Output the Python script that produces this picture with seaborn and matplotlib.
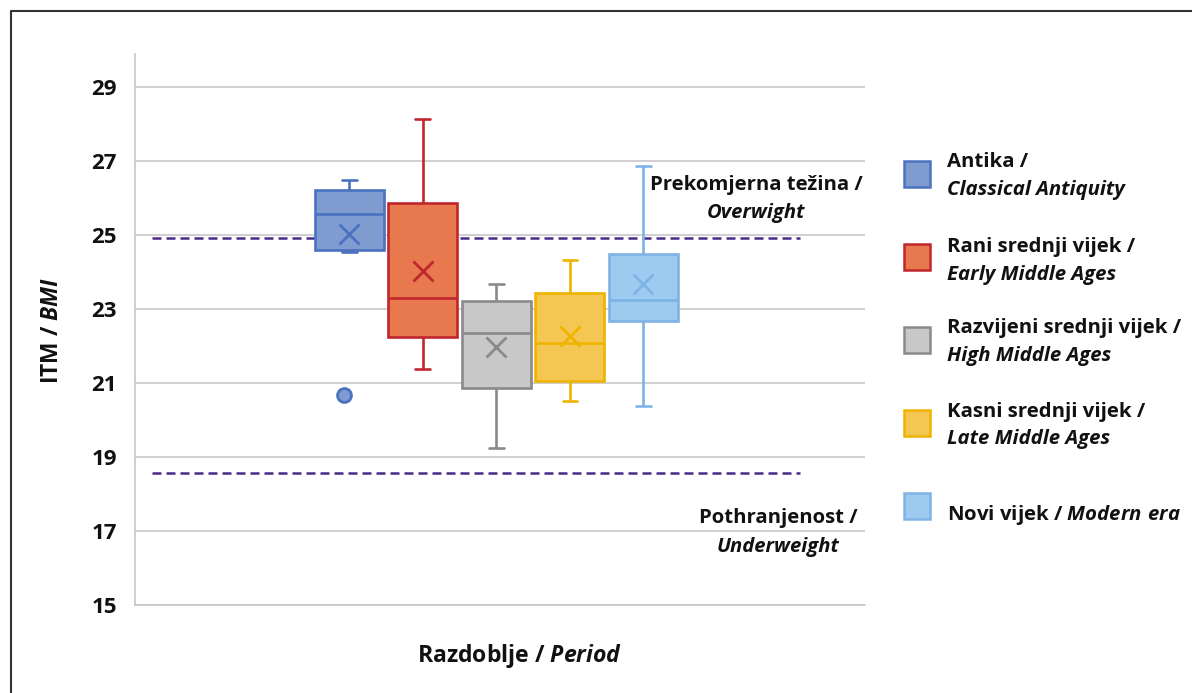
import numpy as np
import pandas as pd
import matplotlib
matplotlib.use('Agg')
import matplotlib.pyplot as plt
import seaborn as sns
from matplotlib import font_manager as fm
from matplotlib.patches import Rectangle
from matplotlib.lines import Line2D

# ---------------- data ----------------
periods = ['Antika', 'Rani srednji vijek', 'Razvijeni srednji vijek',
           'Kasni srednji vijek', 'Novi vijek']
periods_en = ['Classical Antiquity', 'Early Middle Ages', 'High Middle Ages',
              'Late Middle Ages', 'Modern era']
whisker_low = [24.55, 21.38, 19.24, 20.52, 20.38]
q1 = [24.60, 22.26, 20.88, 21.07, 22.69]
median = [25.58, 23.29, 22.35, 22.09, 23.26]
q3 = [26.23, 25.86, 23.22, 23.45, 24.50]
whisker_high = [26.50, 28.15, 23.68, 24.32, 26.86]
means = [25.03, 24.04, 21.98, 22.27, 23.68]
outlier_period = ['Antika']
outlier_value = [20.68]
thresholds = [24.92, 18.57]
threshold_hr = ['Prekomjerna težina /', 'Pothranjenost /']
threshold_en = ['Overwight', 'Underweight']
y_ticks = [15, 17, 19, 21, 23, 25, 27, 29]

face_colors = ['#7F9BD0', '#E8784E', '#C8C8C8', '#F4C752', '#9DCBF0']
edge_colors = ['#4A72C0', '#C0262D', '#8A8A8A', '#EFB300', '#7FB3E6']

rows = []
for i, p in enumerate(periods):
    for v in (whisker_low[i], q1[i], median[i], q3[i], whisker_high[i]):
        rows.append({'period': p, 'bmi': v})
df = pd.DataFrame(rows)

# ---------------- font choice ----------------
_wmap = {'ultralight': 100, 'light': 200, 'normal': 400, 'regular': 400,
         'book': 400, 'medium': 500, 'roman': 400, 'semibold': 600,
         'demibold': 600, 'demi': 600, 'bold': 700, 'heavy': 800,
         'extra bold': 800, 'black': 900}


def _weights(name):
    out = set()
    for f in fm.fontManager.ttflist:
        if f.name == name and f.style == 'normal':
            w = f.weight
            if isinstance(w, str):
                w = _wmap.get(w.lower(), 400)
            out.add(int(w))
    return out


FONT = 'Open Sans'
for cand in ['Noto Sans', 'Open Sans', 'Lato']:
    if 700 in _weights(cand):
        FONT = cand
        break
WEIGHT = 'bold'

sns.set_theme(style='white')
plt.rcParams['font.family'] = [FONT, 'DejaVu Sans']
plt.rcParams['font.weight'] = WEIGHT
plt.rcParams['mathtext.fontset'] = 'custom'
plt.rcParams['mathtext.rm'] = FONT + ':' + WEIGHT
plt.rcParams['mathtext.it'] = FONT + ':italic:' + WEIGHT
plt.rcParams['mathtext.bf'] = FONT + ':bold'


def it(s):
    return r'$\mathit{' + s.replace(' ', r'\ ') + '}$'


TXT = '#111111'
W, H = 1192, 693
fig = plt.figure(figsize=(W / 100, H / 100), dpi=100)
ax = fig.add_axes([135 / W, 1 - 605 / H, 730 / W, 551 / H])


def fx(px):
    return px / W


def fy(py):
    return 1 - py / H


# ---------------- boxes ----------------
for i, p in enumerate(periods):
    n0 = len(ax.lines)
    sns.boxplot(data=df[df.period == p], x='period', y='bmi', order=periods,
                color=face_colors[i], linecolor=edge_colors[i], linewidth=1.9,
                width=0.94, whis=(0, 100), showfliers=False, saturation=1, ax=ax)
    for ln in ax.lines[n0:]:
        x = np.asarray(ln.get_xdata(), dtype=float)
        y = np.asarray(ln.get_ydata(), dtype=float)
        if len(y) == 2 and np.isclose(y[0], y[1]) and (
                np.isclose(y[0], whisker_low[i]) or np.isclose(y[0], whisker_high[i])):
            c = x.mean()
            ln.set_xdata([c - 0.1, c + 0.1])

# means (X markers)
sns.pointplot(x=periods, y=means, order=periods, hue=periods, hue_order=periods,
              palette=edge_colors, markers='x', linestyles='none', errorbar=None,
              markersize=15, markeredgewidth=2, legend=False, ax=ax)
for ln in ax.lines[-len(periods):]:
    ln.set_zorder(4)

# outlier
n_coll = len(ax.collections)
sns.stripplot(x=outlier_period, y=outlier_value, order=periods, jitter=False,
              color=face_colors[0], edgecolor=edge_colors[0], linewidth=2,
              size=10, ax=ax, zorder=4)
for coll in ax.collections[n_coll:]:
    off = coll.get_offsets()
    if len(off):
        off[:, 0] -= 0.07  # Excel draws the outlier slightly left of centre
        coll.set_offsets(off)

# threshold lines
for t in thresholds:
    ax.axhline(t, xmin=(152 - 135) / 730, xmax=(800 - 135) / 730,
               color='#4B2A8A', lw=1.8, dashes=(3.6, 2), zorder=1.5)

# ---------------- axes ----------------
ax.set_ylim(15, 29.9)
ax.set_xlim(-2.91, 7.01)
ax.set_yticks(y_ticks)
ax.set_yticklabels([str(v) for v in y_ticks], fontsize=16, fontweight='bold',
                   color=TXT)
ax.set_xticks([])
ax.set_xlabel('')
ax.set_ylabel('')
ax.tick_params(axis='y', length=0, pad=13)
ax.yaxis.grid(True, color='#C3C3C3', lw=1.1)
ax.set_axisbelow(True)
for s in ('top', 'right'):
    ax.spines[s].set_visible(False)
for s in ('left', 'bottom'):
    ax.spines[s].set_color('#C3C3C3')
    ax.spines[s].set_linewidth(1.1)

# axis titles
fig.text(fx(52), fy(331), 'ITM / ' + it('BMI'), rotation=90, ha='center',
         va='center', fontsize=16.4, fontweight=WEIGHT, color=TXT)
fig.text(fx(520), fy(662), 'Razdoblje / ' + it('Period'), ha='center',
         va='baseline', fontsize=16.6, fontweight=WEIGHT, color=TXT)

# threshold annotations
ann_x = [756, 778]
ann_b1 = [190, 523]
ann_b2 = [218, 552]
for k in range(2):
    fig.text(fx(ann_x[k]), fy(ann_b1[k]), threshold_hr[k], ha='center',
             va='baseline', fontsize=14.6, fontweight=WEIGHT, color=TXT)
    fig.text(fx(ann_x[k]), fy(ann_b2[k]), threshold_en[k], ha='center',
             va='baseline', fontsize=14.6, fontweight=WEIGHT,
             fontstyle='italic', color=TXT)

# legend (drawn by hand to mirror the reference layout)
patch_top = [161, 244, 327, 410, 493]
base1 = [167, 252, 333, 417, 520]
base2 = [195, 280, 361, 444, None]
LFS = 14.7
for i in range(len(periods)):
    fig.add_artist(Rectangle((fx(904), fy(patch_top[i] + 26)), 26 / W, 26 / H,
                             transform=fig.transFigure, facecolor=face_colors[i],
                             edgecolor=edge_colors[i], lw=1.8))
    if base2[i] is not None:
        fig.text(fx(947), fy(base1[i]), periods[i] + ' /', ha='left',
                 va='baseline', fontsize=LFS, fontweight=WEIGHT, color=TXT)
        fig.text(fx(947), fy(base2[i]), periods_en[i], ha='left', va='baseline',
                 fontsize=LFS, fontweight=WEIGHT, fontstyle='italic', color=TXT)
    else:
        fig.text(fx(947), fy(base1[i]), periods[i] + ' / ' + it(periods_en[i]),
                 ha='left', va='baseline', fontsize=LFS, fontweight=WEIGHT,
                 color=TXT)

# outer frame (left and top edges visible)
fig.add_artist(Line2D([fx(11), fx(11), fx(W + 5)], [fy(H + 5), fy(11), fy(11)],
                      transform=fig.transFigure, color='#333333', lw=1.5))

fig.savefig('out.png', dpi=100)
